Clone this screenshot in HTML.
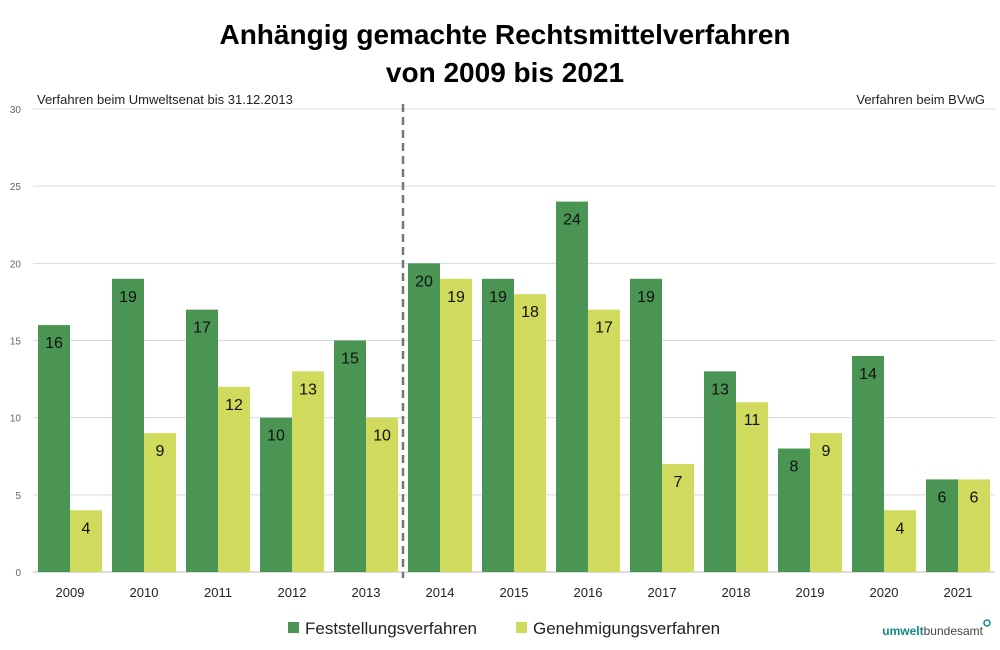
<!DOCTYPE html>
<html><head><meta charset="utf-8"><style>
body{margin:0;background:#fff;width:1000px;height:645px;overflow:hidden;font-family:"Liberation Sans",sans-serif}
svg text{font-family:"Liberation Sans",sans-serif}
</style></head><body>
<svg id="chart" width="1000" height="645">
<text x="505" y="44" text-anchor="middle" font-size="28" font-weight="bold" fill="#000">Anhängig gemachte Rechtsmittelverfahren</text>
<text x="505" y="82" text-anchor="middle" font-size="28" font-weight="bold" fill="#000">von 2009 bis 2021</text>
<text x="37" y="104" font-size="13" fill="#222">Verfahren beim Umweltsenat bis 31.12.2013</text>
<text x="985" y="104" text-anchor="end" font-size="13" fill="#222">Verfahren beim BVwG</text>
<g id="grid"></g><g id="bars"></g><g id="labels"></g>
<line x1="403" x2="403" y1="104" y2="578" stroke="#777" stroke-width="2.5" stroke-dasharray="8,5"/>
<g>
<rect x="288" y="622" width="11" height="11" fill="#4a9553"/>
<text x="305" y="634" font-size="17" fill="#222">Feststellungsverfahren</text>
<rect x="516" y="622" width="11" height="11" fill="#d0da5c"/>
<text x="533" y="634" font-size="17" fill="#222">Genehmigungsverfahren</text>
</g>
<text x="983" y="635" text-anchor="end" font-size="12"><tspan fill="#148a86" font-weight="bold">umwelt</tspan><tspan fill="#444">bundesamt</tspan></text>
<circle cx="987" cy="623" r="3" fill="none" stroke="#148a86" stroke-width="1.5"/>
</svg>
<script>
const years=["2009","2010","2011","2012","2013","2014","2015","2016","2017","2018","2019","2020","2021"];
const feststellung=[16,19,17,10,15,20,19,24,19,13,8,14,6];
const genehmigung=[4,9,12,13,10,19,18,17,7,11,9,4,6];
const yTicks=[0,5,10,15,20,25,30];
const NS="http://www.w3.org/2000/svg";
const left=33,right=995,y0=572,pxPerUnit=(572-109)/30,groupW=(right-left)/years.length,barW=32;
const y=v=>y0-v*pxPerUnit;
const xc=i=>left+groupW*(i+0.5);
function mk(tag,attrs,parent,text){const e=document.createElementNS(NS,tag);for(const k in attrs)e.setAttribute(k,attrs[k]);if(text!==undefined)e.textContent=text;parent.appendChild(e);return e;}
const grid=document.getElementById('grid'),bars=document.getElementById('bars'),labels=document.getElementById('labels');
yTicks.forEach(t=>{
 const l=mk('line',{x1:left,x2:right,y1:y(t),y2:y(t),stroke:t===0?'#bbb':'#d9d9d9','stroke-width':1},grid);
 
 
 const tx=mk('text',{x:21,y:y(t)+4,'text-anchor':'end','font-size':10,fill:'#666'},grid,String(t));
 
 
});
years.forEach((yr,i)=>{
 const c=xc(i);
 [[feststellung[i],c-barW,'#4a9553','feststellung'],[genehmigung[i],c,'#d0da5c','genehmigung']].forEach(([v,x,col,nm])=>{
  const r=mk('rect',{x:x,y:y(v),width:barW,height:v*pxPerUnit,fill:col},bars);
  
  
  const t=mk('text',{x:x+barW/2,y:y(v)+23,'text-anchor':'middle','font-size':16,fill:'#111'},labels,String(v));
  
  
 });
 const xl=mk('text',{x:c,y:597,'text-anchor':'middle','font-size':13,fill:'#222'},labels,yr);
 
 
});
</script>
</body></html>
